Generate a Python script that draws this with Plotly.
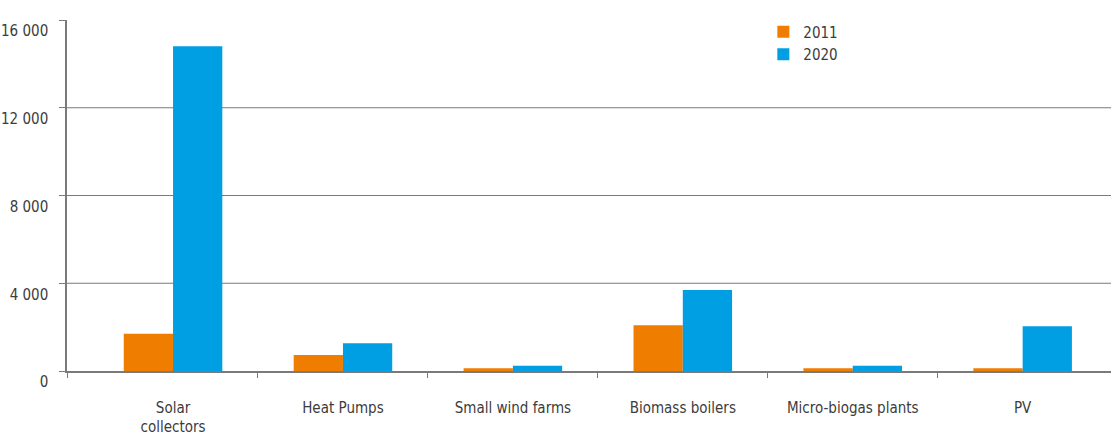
import plotly.graph_objects as go

categories = ["Solar<br>collectors", "Heat Pumps", "Small wind farms",
              "Biomass boilers", "Micro-biogas plants", "PV"]
values_2011 = [1700, 730, 120, 2080, 120, 120]
values_2020 = [14800, 1260, 240, 3690, 240, 2040]
y_tick_vals = [0, 4000, 8000, 12000, 16000]
y_tick_text = ["0", "4 000", "8 000", "12 000", "16 000"]

ORANGE = "#EF7D00"
BLUE = "#009FE3"
AXIS = "#7a7a7a"
TEXT = "#3c3c3c"
FONT = "DejaVu Sans Condensed, Liberation Sans Narrow, Roboto, sans-serif"

positions = list(range(len(categories)))
x_min, x_max = -0.624, 5.52

fig = go.Figure()
fig.add_trace(go.Bar(name="2011", x=positions, y=values_2011,
                     marker=dict(color=ORANGE, line=dict(width=0))))
fig.add_trace(go.Bar(name="2020", x=positions, y=values_2020,
                     marker=dict(color=BLUE, line=dict(width=0))))

# horizontal grid lines (the top of the range only gets a tick)
for v in y_tick_vals[1:-1]:
    fig.add_hline(y=v, line=dict(color=AXIS, width=1), layer="below")

# separator ticks between categories, plus one at the axis corner
separators = [x_min] + [p + 0.5 for p in positions[:-1]]

fig.update_layout(
    width=1111, height=439,
    margin=dict(l=67, r=0, t=20, b=68),
    paper_bgcolor="white", plot_bgcolor="white",
    barmode="group", bargap=0.42, bargroupgap=0,
    font=dict(family=FONT, size=15, color=TEXT),
    legend=dict(x=0.667, y=1.013, xanchor="left", yanchor="top",
                tracegroupgap=0, bgcolor="rgba(0,0,0,0)",
                font=dict(size=15, color=TEXT)),
    xaxis=dict(
        range=[x_min, x_max], tickvals=positions, ticktext=categories,
        showline=True, linecolor=AXIS, linewidth=1.5,
        ticks="", showgrid=False, zeroline=False, ticklabelstandoff=22,
        tickfont=dict(size=15, color=TEXT),
        minor=dict(tickvals=separators, ticks="outside", ticklen=5,
                   tickcolor=AXIS, showgrid=False),
    ),
    yaxis=dict(
        range=[0, 16000], tickvals=y_tick_vals, ticktext=y_tick_text,
        showline=True, linecolor=AXIS, linewidth=1.5,
        ticks="outside", ticklen=6, tickcolor=AXIS,
        ticklabelposition="outside bottom",
        showgrid=False, zeroline=False, ticklabelstandoff=14,
        tickfont=dict(size=15, color=TEXT),
    ),
)

fig.write_html("out.html")
